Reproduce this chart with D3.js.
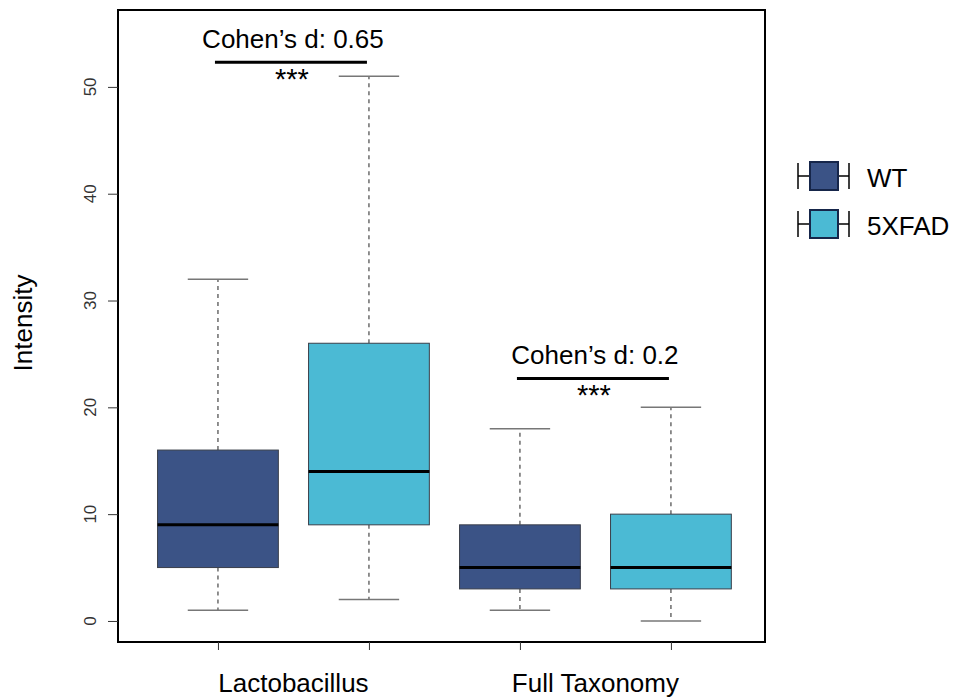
<!DOCTYPE html>
<html>
<head>
<meta charset="utf-8">
<script src="https://cdn.jsdelivr.net/npm/d3@7"></script>
<style>
  html, body { margin: 0; padding: 0; background: #fff; }
  svg text { font-family: "Liberation Sans", Arial, Helvetica, sans-serif; }
</style>
</head>
<body>
<svg id="chart" width="953" height="698"></svg>
<script>
// Box statistics per group: [lower whisker, Q1, median, Q3, upper whisker]
const categories = ["Lactobacillus", "Full Taxonomy"];
const groups = ["WT", "5XFAD"];
const groupColors = ["#3b5386", "#4bbad4"];
const wtStats = [
  [1, 5, 9, 16, 32],
  [1, 3, 5, 9, 18]
];
const fadStats = [
  [2, 9, 14, 26, 51],
  [0, 3, 5, 10, 20]
];
const effectLabels = ["Cohen\u2019s d: 0.65", "Cohen\u2019s d: 0.2"];
const effectLineLevels = [52.3, 22.7];
const significance = ["***", "***"];
const yTicks = [0, 10, 20, 30, 40, 50];

const svg = d3.select("#chart");
const frame = { left: 118, right: 765, top: 10, bottom: 642 };

const x = d3.scaleLinear().domain([0.338, 4.623]).range([frame.left, frame.right]);
const y = d3.scaleLinear().domain([-1.97, 57.2]).range([frame.bottom, frame.top]);

// Flatten into boxes at positions 1..4
const boxes = [];
categories.forEach((c, i) => {
  boxes.push({ pos: 2 * i + 1, s: wtStats[i], color: groupColors[0] });
  boxes.push({ pos: 2 * i + 2, s: fadStats[i], color: groupColors[1] });
});

const boxW = x(1.4) - x(1);   // half box width (boxwex 0.8)
const capW = boxW / 2;

const g = svg.append("g");

boxes.forEach(b => {
  const cx = x(b.pos);
  const [lo, q1, med, q3, hi] = b.s;
  // whiskers
  g.append("line").attr("x1", cx).attr("x2", cx).attr("y1", y(q3)).attr("y2", y(hi))
    .attr("stroke", "#555").attr("stroke-width", 1.3).attr("stroke-dasharray", "4,4");
  g.append("line").attr("x1", cx).attr("x2", cx).attr("y1", y(q1)).attr("y2", y(lo))
    .attr("stroke", "#555").attr("stroke-width", 1.3).attr("stroke-dasharray", "4,4");
  // caps
  [lo, hi].forEach(v => {
    g.append("line").attr("x1", cx - capW).attr("x2", cx + capW).attr("y1", y(v)).attr("y2", y(v))
      .attr("stroke", "#777").attr("stroke-width", 1.5);
  });
  // box
  g.append("rect").attr("x", cx - boxW).attr("width", 2 * boxW)
    .attr("y", y(q3)).attr("height", y(q1) - y(q3))
    .attr("fill", b.color).attr("stroke", "#3a3f4a").attr("stroke-width", 1);
  // median
  g.append("line").attr("x1", cx - boxW).attr("x2", cx + boxW).attr("y1", y(med)).attr("y2", y(med))
    .attr("stroke", "#000").attr("stroke-width", 3);
});

// frame
svg.append("rect").attr("x", frame.left).attr("y", frame.top)
  .attr("width", frame.right - frame.left).attr("height", frame.bottom - frame.top)
  .attr("fill", "none").attr("stroke", "#000").attr("stroke-width", 2);

// y axis
const yAxis = svg.append("g").attr("transform", `translate(${frame.left},0)`)
  .call(d3.axisLeft(y).tickValues(yTicks).tickSize(10).tickPadding(0));
yAxis.select(".domain").remove();
yAxis.selectAll(".tick line").attr("stroke", "#333").attr("stroke-width", 1);
yAxis.selectAll(".tick text").remove();
yTicks.forEach(t => {
  svg.append("text")
    .attr("transform", `translate(96,${y(t)}) rotate(-90)`)
    .attr("text-anchor", "middle")
    .attr("font-size", 17).attr("fill", "#333")
    .text(t);
});

// x axis ticks at every box position, labels centred per category
const xAxis = svg.append("g").attr("transform", `translate(0,${frame.bottom})`)
  .call(d3.axisBottom(x).tickValues([1, 2, 3, 4]).tickSize(8).tickFormat(""));
xAxis.select(".domain").remove();
xAxis.selectAll(".tick line").attr("stroke", "#333");
categories.forEach((c, i) => {
  svg.append("text")
    .attr("x", x(2 * i + 1.5)).attr("y", 692)
    .attr("text-anchor", "middle").attr("font-size", 26).attr("fill", "#000")
    .text(c);
});

// y axis title
svg.append("text")
  .attr("transform", `translate(32,323) rotate(-90)`)
  .attr("text-anchor", "middle").attr("font-size", 26).attr("fill", "#000")
  .text("Intensity");

// effect size annotations
categories.forEach((c, i) => {
  const x1 = x(2 * i + 1) - 3, x2 = x(2 * i + 2) - 2;
  const ly = y(effectLineLevels[i]);
  svg.append("line").attr("x1", x1).attr("x2", x2).attr("y1", ly).attr("y2", ly)
    .attr("stroke", "#000").attr("stroke-width", 3);
  svg.append("text").attr("x", (x1 + x2) / 2 + 2).attr("y", ly - 14)
    .attr("text-anchor", "middle").attr("font-size", 26).attr("fill", "#000")
    .text(effectLabels[i]);
  svg.append("text").attr("x", (x1 + x2) / 2 + 1).attr("y", ly + 27)
    .attr("text-anchor", "middle").attr("font-size", 29).attr("fill", "#000")
    .text(significance[i]);
});

// legend
groups.forEach((name, i) => {
  const cy = 176 + i * 48;
  const lg = svg.append("g");
  lg.append("line").attr("x1", 798).attr("x2", 810).attr("y1", cy).attr("y2", cy).attr("stroke", "#000").attr("stroke-width", 1.5);
  lg.append("line").attr("x1", 838).attr("x2", 849).attr("y1", cy).attr("y2", cy).attr("stroke", "#000").attr("stroke-width", 1.5);
  lg.append("line").attr("x1", 798).attr("x2", 798).attr("y1", cy - 13).attr("y2", cy + 13).attr("stroke", "#000").attr("stroke-width", 1.5);
  lg.append("line").attr("x1", 849).attr("x2", 849).attr("y1", cy - 13).attr("y2", cy + 13).attr("stroke", "#000").attr("stroke-width", 1.5);
  lg.append("rect").attr("x", 810).attr("y", cy - 14).attr("width", 28).attr("height", 28)
    .attr("fill", groupColors[i]).attr("stroke", "#16264a").attr("stroke-width", 2);
  lg.append("text").attr("x", 867).attr("y", cy + 11).attr("font-size", 26).attr("fill", "#000").text(name);
});
</script>
</body>
</html>
